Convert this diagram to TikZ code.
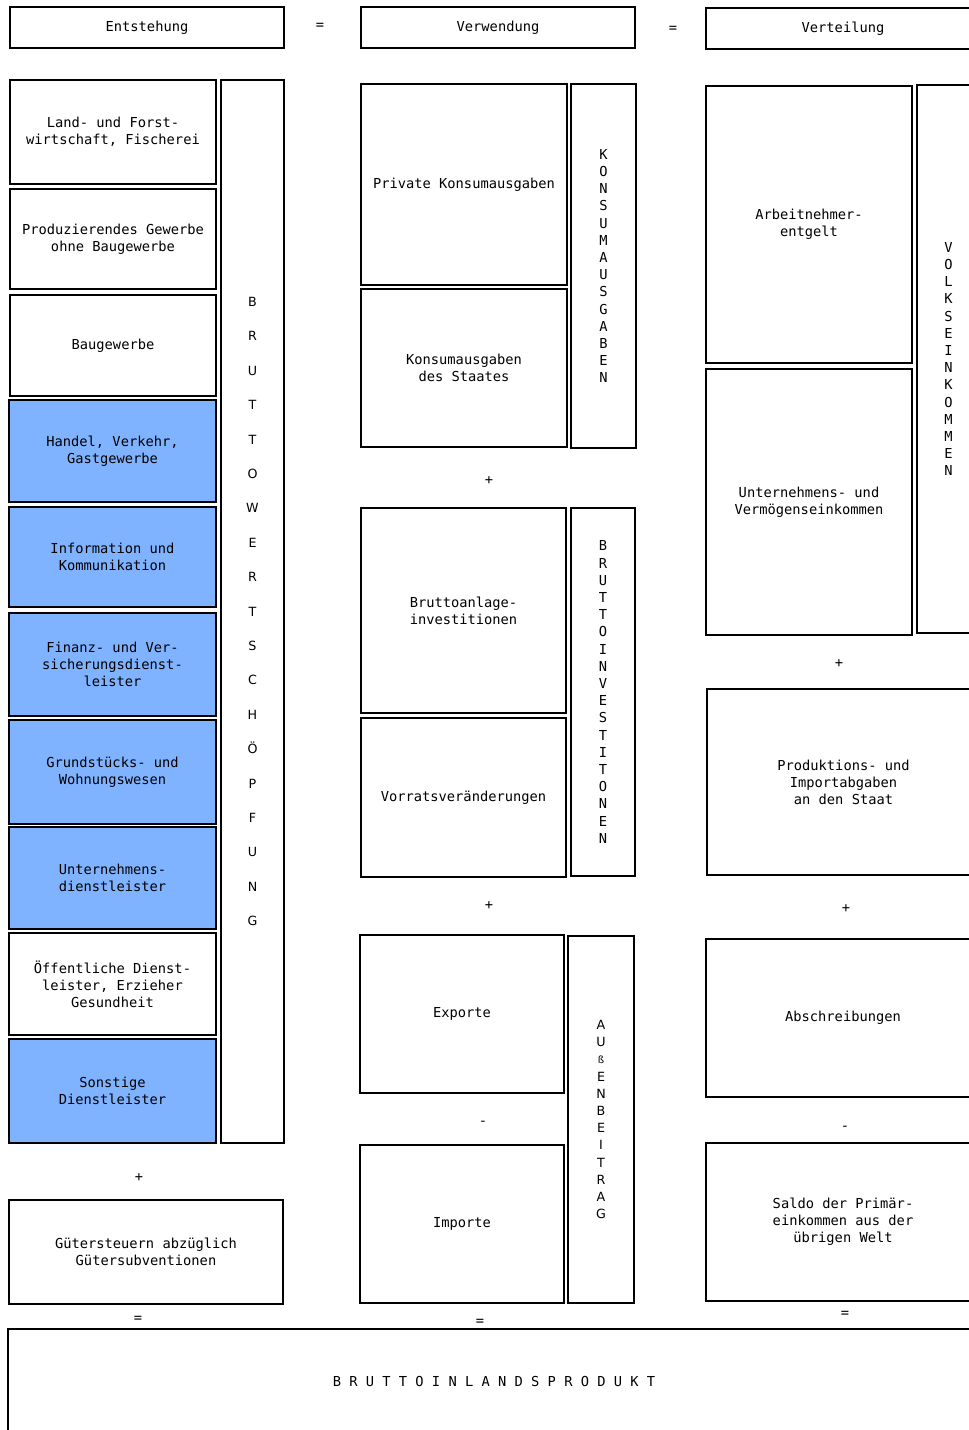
\documentclass[tikz,border=0pt]{standalone}
\usepackage{fontspec}
\newfontfamily\dvm{DejaVu Sans Mono}
\newfontfamily\dvs{DejaVu Sans}
\definecolor{bluebox}{HTML}{80B3FF}
\tikzset{
  box/.style={draw=black, line width=1.7pt, inner sep=0pt, align=center,
    font=\dvm\fontsize{10.3}{12.75}\selectfont},
  bbox/.style={box, fill=bluebox},
  vbox/.style={box, font=\dvm\fontsize{10.3}{12.9}\selectfont},
  vwide/.style={box, font=\dvs\fontsize{9.5}{25.8}\selectfont},
  vsans/.style={box, font=\dvs\fontsize{9.5}{12.9}\selectfont},
  sym/.style={inner sep=0pt, yshift=-1.8pt, font=\dvm\fontsize{10.3}{12}\selectfont},
}
% \bx{name}{x1}{y1}{x2}{y2}{style}{text}
\newcommand\bx[7]{\node[#6, minimum width={(#4-#2)*0.75pt}, minimum height={(#5-#3)*0.75pt}] (#1) at ({(#2+#4)/2},{(#3+#5)/2}) {#7};}
\begin{document}
\begin{tikzpicture}[x=0.75pt,y=-0.75pt]
\useasboundingbox (0,0) rectangle (969,1430);
\clip (0,0) rectangle (969,1430);
\fill[white] (0,0) rectangle (969,1430);
% headers
\bx{hEnt}{10}{7}{284}{48}{box}{Entstehung}
\node[sym] (eq1) at (320,24) {=};
\bx{hVerw}{361}{7}{635}{48}{box}{Verwendung}
\node[sym] (eq2) at (673,27) {=};
\bx{hVert}{706}{8}{980}{49}{box}{Verteilung}
% column 1
\bx{c1a}{10}{80}{216}{184}{box}{Land- und Forst-\\wirtschaft, Fischerei}
\bx{c1b}{10}{189}{216}{289}{box}{Produzierendes Gewerbe\\ohne Baugewerbe}
\bx{c1c}{10}{295}{216}{396}{box}{Baugewerbe}
\bx{c1d}{9}{400}{216}{502}{bbox}{Handel, Verkehr,\\Gastgewerbe}
\bx{c1e}{9}{507}{216}{607}{bbox}{Information und\\Kommunikation}
\bx{c1f}{9}{613}{216}{716}{bbox}{Finanz- und Ver-\\sicherungsdienst-\\leister}
\bx{c1g}{9}{720}{216}{824}{bbox}{Grundstücks- und\\Wohnungswesen}
\bx{c1h}{9}{827}{216}{929}{bbox}{Unternehmens-\\dienstleister}
\bx{c1i}{9}{933}{216}{1035}{box}{Öffentliche Dienst-\\leister, Erzieher\\Gesundheit}
\bx{c1j}{9}{1039}{216}{1143}{bbox}{Sonstige\\Dienstleister}
\bx{bws}{221}{80}{284}{1143}{vwide}{B\\R\\U\\T\\T\\O\\W\\E\\R\\T\\S\\C\\H\\Ö\\P\\F\\U\\N\\G}
\node[sym] (p1) at (139,1175) {+};
\bx{gst}{9}{1200}{283}{1304}{box}{Gütersteuern abzüglich\\Gütersubventionen}
\node[sym] (eq3) at (138,1317) {=};
% column 2
\bx{c2a}{361}{84}{567}{285}{box}{Private Konsumausgaben}
\bx{c2b}{361}{289}{567}{447}{box}{Konsumausgaben\\des Staates}
\bx{kon}{571}{84}{636}{448}{vbox}{K\\O\\N\\S\\U\\M\\A\\U\\S\\G\\A\\B\\E\\N}
\node[sym] (p2) at (489,478) {+};
\bx{c2c}{361}{508}{566}{713}{box}{Bruttoanlage-\\investitionen}
\bx{c2d}{361}{718}{566}{877}{box}{Vorratsveränderungen}
\bx{binv}{571}{508}{635}{876}{vbox}{B\\R\\U\\T\\T\\O\\I\\N\\V\\E\\S\\T\\I\\T\\O\\N\\E\\N}
\node[sym] (p3) at (489,903) {+};
\bx{c2e}{360}{935}{564}{1093}{box}{Exporte}
\node[sym] (m1) at (483,1121) {-};
\bx{c2f}{360}{1145}{564}{1303}{box}{Importe}
\bx{aub}{568}{936}{634}{1303}{vsans}{A\\U\\{\fontsize{7.5}{12.9}\selectfont ß}\\E\\N\\B\\E\\I\\T\\R\\A\\G}
\node[sym] (eq4) at (480,1320) {=};
% column 3
\bx{c3a}{706}{86}{912}{363}{box}{Arbeitnehmer-\\entgelt}
\bx{c3b}{706}{369}{912}{635}{box}{Unternehmens- und\\Vermögenseinkommen}
\bx{vek}{917}{85}{980}{633}{vbox}{V\\O\\L\\K\\S\\E\\I\\N\\K\\O\\M\\M\\E\\N}
\node[sym] (p4) at (839,661) {+};
\bx{c3c}{707}{689}{980}{875}{box}{Produktions- und\\Importabgaben\\an den Staat}
\node[sym] (p5) at (846,906) {+};
\bx{c3d}{706}{939}{980}{1097}{box}{Abschreibungen}
\node[sym] (m2) at (845,1126) {-};
\bx{c3e}{706}{1143}{980}{1301}{box}{Saldo der Primär-\\einkommen aus der\\übrigen Welt}
\node[sym] (eq5) at (845,1312) {=};
% bottom
\bx{bip}{8}{1329}{980}{1433}{box}{B R U T T O I N L A N D S P R O D U K T}
\end{tikzpicture}
\end{document}
